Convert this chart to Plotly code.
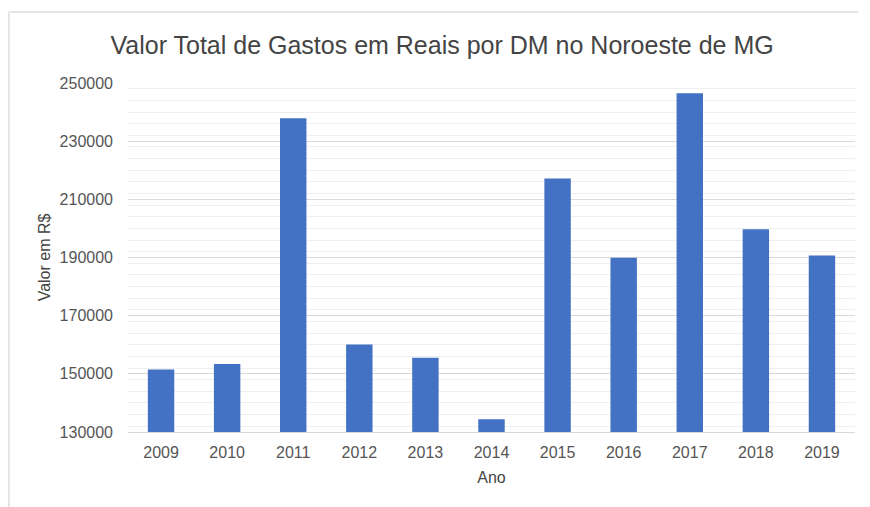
import plotly.graph_objects as go

anos = ['2009', '2010', '2011', '2012', '2013', '2014', '2015', '2016', '2017', '2018', '2019']
valores = [151500, 153400, 237900, 160100, 155500, 134400, 217200, 189900, 246500, 199700, 190700]

fonte = "Arial, Liberation Sans, sans-serif"

fig = go.Figure(
    go.Bar(
        x=anos,
        y=valores,
        marker={'color': '#4372c4', 'line': {'width': 0}},
    )
)

fig.update_yaxes(
    range=[130000, 250000],
    tick0=130000,
    dtick=20000,
    tickformat='d',
    showgrid=True,
    gridcolor='#d9d9d9',
    gridwidth=1,
    minor={'dtick': 4000, 'showgrid': True, 'gridcolor': '#eeeeee', 'gridwidth': 1},
    zeroline=False,
    showline=False,
    ticks='',
    ticklabelstandoff=14,
    tickfont={'size': 16, 'color': '#555555', 'family': fonte},
    title={'text': 'Valor em R$', 'font': {'size': 16, 'color': '#444444', 'family': fonte}, 'standoff': 5},
)

fig.update_xaxes(
    showgrid=False,
    showline=True,
    linecolor='#d9d9d9',
    ticks='',
    ticklabelstandoff=6,
    tickfont={'size': 16, 'color': '#555555', 'family': fonte},
    title={'text': 'Ano', 'font': {'size': 16, 'color': '#444444', 'family': fonte}, 'standoff': 11},
)

# moldura clara da captura de tela
fig.add_shape(type='line', xref='paper', yref='paper', x0=-0.164, x1=1.004, y0=1.2034, y1=1.2034,
              line={'color': '#e4e4e4', 'width': 2})
fig.add_shape(type='line', xref='paper', yref='paper', x0=-0.164, x1=-0.164, y0=1.2034, y1=-0.26,
              line={'color': '#e4e4e4', 'width': 2})

fig.update_layout(
    width=870,
    height=507,
    margin={'l': 120, 'r': 23, 't': 75, 'b': 83},
    paper_bgcolor='white',
    plot_bgcolor='white',
    bargap=0.6,
    showlegend=False,
    font={'family': fonte, 'color': '#444444'},
    title={
        'text': 'Valor Total de Gastos em Reais por DM no Noroeste de MG',
        'x': 0.499,
        'xanchor': 'center',
        'y': 0.927,
        'yanchor': 'middle',
        'font': {'size': 25, 'color': '#444444', 'family': fonte},
    },
)

fig.write_html("out.html")
